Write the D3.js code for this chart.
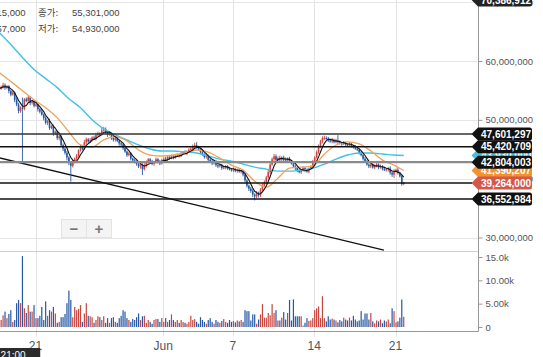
<!DOCTYPE html>
<html><head><meta charset="utf-8">
<script src="https://cdn.jsdelivr.net/npm/d3@7"></script>
<style>body{margin:0;background:#fff;overflow:hidden}svg{display:block}</style>
</head><body><svg id="c" width="543" height="357"></svg>
<script>
// ---------- DATA ----------
const startTime = "2021-05-17 21:00";   // first 4h candle
const stepHours = 4;
const firstOpen = 55.115;                // millions KRW
const close = [
55.301,55.6,55.9,55.5,55.7,54.9, 54.3,54.6,53.4,52.6,51.5,52.1,
51.9,53.5,53.2,53.8,52.9,53.1, 52.4,52.6,51.8,51.4,50.9,50.3,
49.5,49.8,48.6,48.9,47.7,48.0, 46.9,47.2,45.7,45.1,44.4,43.6,
42.7,42.2,42.8,43.4,43.9,44.8, 45.5,45.1,46.2,46.7,46.3,46.6,
47.0,46.8,47.4,47.7,47.5,48.2, 48.4,47.9,47.5,47.7,46.9,46.6,
46.9,46.4,46.0,45.8,45.2,44.6, 44.0,44.3,43.4,43.1,42.9,42.5,
42.1,42.4,41.6,42.2,42.8,43.3, 42.9,42.5,42.8,43.3,43.0,42.6,
43.1,43.4,43.2,43.7,43.5,43.8, 43.6,43.9,44.1,43.9,44.3,44.5,
44.3,44.6,44.9,45.1,45.5,45.7, 45.3,45.0,44.5,44.1,43.7,43.9,
43.2,43.0,42.6,42.9,42.3,42.1, 42.3,41.8,41.9,42.1,41.7,41.6,
41.4,41.6,41.3,41.5,41.2,41.3, 40.7,39.7,38.8,38.3,37.9,37.3,
37.0,37.6,37.2,38.1,38.8,39.4, 40.2,41.1,42.4,43.3,43.8,43.2,
43.5,43.2,43.6,43.3,43.1,43.4, 43.0,42.6,42.1,41.8,41.4,41.1,
41.4,41.8,41.4,41.2,41.7,42.1, 42.9,43.6,44.5,45.4,46.3,46.9,
46.9,46.8,46.5,46.3,46.6,46.2, 46.5,46.2,46.0,45.9,46.1,45.8,
45.7,45.9,45.5,45.4,45.1,44.9, 44.4,44.0,43.4,43.0,42.4,42.1,
42.4,41.9,42.1,42.4,41.9,42.1, 41.7,41.5,41.6,41.7,41.0,40.7,
41.3,41.5,41.0,40.4,39.1,39.264
];
const wickUp = [
0.16,0.2,0.4,0.3,0.2,0.2, 0.2,0.3,0.2,0.4,0.3,0.2,
1.7,0.2,0.3,0.4,0.2,0.3, 0.2,0.3,0.2,0.3,0.4,0.2,
0.3,0.2,0.4,0.2,0.3,0.2, 0.2,0.4,0.2,0.3,0.2,0.3,
0.2,0.3,0.4,0.2,0.3,0.2, 0.3,0.2,0.4,0.3,0.2,0.3,
0.2,0.3,0.4,0.3,0.2,0.5, 0.4,0.3,0.2,0.4,0.2,0.3,
0.3,0.2,0.2,0.3,0.2,0.3, 0.2,0.3,0.2,0.2,0.3,0.2,
0.3,0.2,0.2,0.4,0.3,0.2, 0.2,0.3,0.2,0.3,0.2,0.2,
0.3,0.2,0.3,0.2,0.2,0.3, 0.2,0.3,0.2,0.2,0.3,0.2,
0.3,0.2,0.3,0.2,0.3,0.4, 0.5,0.3,0.2,0.3,0.2,0.3,
0.2,0.3,0.2,0.2,0.3,0.2, 0.2,0.2,0.3,0.2,0.2,0.3,
0.2,0.3,0.2,0.2,0.3,0.2, 0.2,0.3,0.2,0.2,0.3,0.4,
0.2,0.3,0.2,0.3,0.4,0.3, 0.3,0.5,0.4,0.3,0.4,0.3,
0.3,0.4,0.2,0.3,0.3,0.2, 0.3,0.2,0.2,0.3,0.2,0.3,
0.2,0.3,0.2,0.3,0.2,0.2, 0.3,0.2,0.3,0.4,0.3,0.3,
0.4,0.3,0.3,0.2,0.3,0.2, 0.3,0.9,0.3,0.2,0.3,0.2,
0.2,0.3,0.2,0.2,0.3,0.2, 0.2,0.3,0.2,0.3,0.2,0.2,
0.3,0.2,0.3,0.4,0.2,0.3, 0.2,0.3,0.2,0.3,0.4,0.3,
0.3,0.2,0.3,0.2,0.2,0.2
];
const wickDown = [
0.19,0.2,0.3,0.4,0.3,0.4, 0.3,0.2,0.4,0.3,0.4,0.3,
9.3,0.3,0.2,0.3,0.4,0.3, 0.3,0.2,0.4,0.3,0.2,0.4,
0.3,0.4,0.3,0.2,0.4,0.3, 0.3,0.4,0.3,0.4,0.3,0.5,
0.4,2.7,0.3,0.2,0.3,0.3, 0.2,0.3,0.2,0.3,0.3,0.2,
0.3,0.2,0.3,0.2,0.3,0.2, 0.2,0.3,0.4,0.2,0.3,0.3,
0.3,0.2,0.4,0.3,0.3,0.2, 0.3,0.2,0.3,0.4,0.3,0.3,
0.3,0.4,1.0,0.2,0.3,0.2, 0.3,0.2,0.3,0.2,0.4,0.3,
0.2,0.3,0.2,0.2,0.3,0.2, 0.3,0.2,0.2,0.3,0.2,0.2,
0.2,0.3,0.2,0.2,0.3,0.2, 0.2,0.3,0.3,0.2,0.3,0.3,
0.3,0.2,0.3,0.2,0.3,0.3, 0.2,0.3,0.2,0.3,0.2,0.2,
0.2,0.3,0.2,0.3,0.2,0.3, 0.3,0.4,0.3,0.4,0.3,0.4,
0.7,0.3,0.4,0.3,0.3,0.2, 0.3,0.2,0.3,0.2,0.3,0.3,
0.2,0.3,0.2,0.3,0.2,0.3, 0.3,0.2,0.3,0.4,0.3,0.2,
0.3,0.2,0.3,0.2,0.3,0.2, 0.2,0.3,0.2,0.3,0.2,0.3,
0.3,0.2,0.3,0.2,0.3,0.2, 0.2,0.3,0.2,0.3,0.2,0.3,
0.2,0.3,0.2,0.3,0.2,0.2, 0.3,0.2,0.3,0.3,0.2,0.3,
0.3,0.2,0.3,0.2,0.3,0.2, 0.3,0.2,0.3,0.4,0.3,0.4,
0.6,0.2,0.3,0.2,0.3,0.2
];
const volume = [ // thousands
1.2,1.5,2.5,3.3,1.9,2.8, 3.6,1.1,1.5,5.1,5.8,5.1,
15.2,4.0,3.0,4.7,3.3,3.3, 4.7,1.9,1.9,2.4,4.3,1.5,
5.5,2.4,3.6,3.3,4.3,2.9, 0.9,1.1,2.1,2.1,2.8,5.1,
7.8,5.8,2.1,4.3,3.6,3.9, 4.7,1.1,2.9,5.1,2.4,2.3,
2.1,0.9,1.5,2.3,2.1,1.5, 2.3,0.9,1.9,0.9,1.9,2.1,
1.1,0.9,1.9,2.4,3.6,3.3, 1.9,1.5,1.1,1.7,1.5,2.1,
2.9,1.5,2.3,2.4,0.9,1.5, 1.1,0.7,1.5,1.7,1.7,1.1,
1.9,1.1,1.9,1.1,1.5,2.7, 1.5,1.1,1.5,0.9,1.5,1.1,
0.9,0.7,1.1,2.4,1.5,1.7, 1.1,0.7,2.1,1.5,1.1,0.7,
1.5,1.9,1.1,0.7,1.5,1.1, 0.9,1.3,1.7,1.1,0.9,1.5,
1.1,1.3,1.0,1.4,1.2,1.5, 1.1,3.6,3.4,3.4,1.4,2.7,
2.7,0.7,1.6,2.7,4.9,2.0, 2.0,3.0,2.5,4.9,3.0,3.6,
1.4,1.4,2.0,3.2,1.6,3.0, 5.8,1.4,5.9,2.3,2.3,2.3,
2.3,0.3,0.9,1.9,1.3,1.4, 1.9,3.6,4.0,4.4,1.9,6.6,
1.9,1.2,2.3,1.6,1.8,1.6, 1.4,1.0,1.5,1.2,2.0,1.6,
1.4,2.0,1.4,2.4,1.6,1.2, 1.4,3.4,1.6,2.9,2.9,1.6,
3.0,1.2,0.8,1.4,1.2,1.6, 0.8,1.4,1.2,1.6,0.8,4.0,
3.4,1.0,1.2,2.0,5.9,2.2
];
// moving averages sampled every 6 candles (+ last candle)
const maSampleEvery = 6;
const orangeMA = [58.03,56.50,54.96,53.42,52.05,50.34,47.95,45.73,45.38,46.58,47.09,46.41,
44.87,44.02,43.85,44.02,44.36,44.87,44.53,43.50,42.31,41.45,39.57,38.55,40.09,41.79,
41.97,42.14,44.19,45.73,46.24,45.90,44.70,43.16,42.31,41.390207];
const cyanMA = [64.87,62.82,60.60,58.55,57.01,55.47,53.59,52.05,50.00,48.46,47.44,46.58,
45.73,45.04,44.70,44.70,44.53,44.36,43.85,43.33,42.99,42.48,41.97,41.62,41.28,41.28,
41.45,41.79,42.48,43.33,44.02,44.36,44.36,44.19,44.02,43.93];
const shortMAPeriod = 5;
const levels = [47.601297, 45.420709, 42.804003, 36.552984];
const topTagValue = 70.386912;
const trendLine = [["2021-05-17 21:00", 43.55], ["2021-06-20 00:00", 27.87]];
const priceTicks = [30, 40, 50, 60, 70];
const volTicks = [0, 5, 10, 15];
const volTickLabels = ["0", "5.00k", "10.00k", "15.0k"];
const xTickDates = ["2021-05-21 00:00","2021-06-01 00:00","2021-06-07 00:00","2021-06-14 00:00","2021-06-21 00:00"];
const xTickLabels = ["21", "Jun", "7", "14", "21"];
const tooltipLabels = ["시가:", "고가:", "종가:", "저가:"];
const tooltipValues = [55115000, 55457000, 55301000, 54930000];
const crosshairLabel = "05.17 21:00";

// ---------- CHART ----------
const svg = d3.select("#c");
const parse = d3.timeParse("%Y-%m-%d %H:%M");
const t0 = parse(startTime);
const n = close.length;
const data = close.map((c, i) => {
  const o = i === 0 ? firstOpen : close[i - 1];
  return { t: d3.timeHour.offset(t0, stepHours * i), o, c,
    h: Math.max(o, c) + wickUp[i], l: Math.min(o, c) - wickDown[i], v: volume[i] };
});
const x = d3.scaleTime().domain([parse(xTickDates[0]), parse(xTickDates[4])]).range([35.5, 395.5]);
const y = d3.scaleLinear().domain([30, 60]).range([237.5, 61]);
const yv = d3.scaleLinear().domain([0, 15]).range([327, 257]);
const R = 478.5, SEP = 251.5, BOT = 331.5;
const UP = "#c9453f", DOWN = "#2458a8";
const FONT = "'Liberation Sans', Arial, sans-serif";

const defs = svg.append("defs");
defs.append("clipPath").attr("id", "cp").append("rect").attr("x", 0).attr("y", 0).attr("width", R).attr("height", SEP);
defs.append("clipPath").attr("id", "cv").append("rect").attr("x", 0).attr("y", SEP).attr("width", R).attr("height", BOT - SEP);

// grid
const grid = svg.append("g");
grid.selectAll(".gx").data(xTickDates).enter().append("line")
  .attr("x1", d => Math.round(x(parse(d))) + 0.5).attr("x2", d => Math.round(x(parse(d))) + 0.5)
  .attr("y1", 0).attr("y2", BOT + 5).attr("stroke", "#e3e3e3");
grid.selectAll(".gy").data(priceTicks).enter().append("line")
  .attr("x1", 0).attr("x2", R).attr("y1", d => Math.round(y(d)) + 0.5).attr("y2", d => Math.round(y(d)) + 0.5)
  .attr("stroke", "#e6e6e6");

// volume
const gv = svg.append("g").attr("clip-path", "url(#cv)");
gv.selectAll("rect").data(data).enter().append("rect")
  .attr("x", d => x(d.t) - 0.6).attr("width", 1.2)
  .attr("y", d => yv(d.v)).attr("height", d => yv(0) - yv(d.v))
  .attr("fill", d => d.c >= d.o ? UP : DOWN);

const gp = svg.append("g").attr("clip-path", "url(#cp)");
// trend line
gp.append("line")
  .attr("x1", x(parse(trendLine[0][0]))).attr("y1", y(trendLine[0][1]))
  .attr("x2", x(parse(trendLine[1][0]))).attr("y2", y(trendLine[1][1]))
  .attr("stroke", "#111").attr("stroke-width", 1.3);

// candles
const gc = gp.append("g");
gc.selectAll("line").data(data).enter().append("line")
  .attr("x1", d => x(d.t)).attr("x2", d => x(d.t))
  .attr("y1", d => y(d.h)).attr("y2", d => y(d.l))
  .attr("stroke", d => d.c >= d.o ? UP : DOWN).attr("stroke-width", 0.9);
gc.selectAll("rect").data(data).enter().append("rect")
  .attr("x", d => x(d.t) - 0.8).attr("width", 1.6)
  .attr("y", d => y(Math.max(d.o, d.c)))
  .attr("height", d => Math.max(1, Math.abs(y(d.o) - y(d.c))))
  .attr("fill", d => d.c >= d.o ? UP : DOWN);

// level lines
const levelStroke = ["#333", "#111", "#8a8a8a", "#111"];
const levelWidth = [1.6, 1.6, 2.2, 1.6];
levels.forEach((p, k) => {
  svg.append("line").attr("x1", 0).attr("x2", 472).attr("y1", y(p)).attr("y2", y(p))
    .attr("stroke", levelStroke[k]).attr("stroke-width", levelWidth[k]);
});
const last = data[n - 1];
svg.append("line").attr("x1", 0).attr("x2", 472).attr("y1", y(last.c)).attr("y2", y(last.c))
  .attr("stroke", "#111").attr("stroke-width", 1.6);

// moving averages
const maIdx = d3.range(0, n, maSampleEvery).concat([n - 1]);
const lineMA = d3.line().x(d => x(d[0])).y(d => y(d[1])).curve(d3.curveMonotoneX);
gp.append("path").attr("d", lineMA(maIdx.map((i, k) => [data[i].t, cyanMA[k]])))
  .attr("fill", "none").attr("stroke", "#43c1e4").attr("stroke-width", 1.4);
gp.append("path").attr("d", lineMA(maIdx.map((i, k) => [data[i].t, orangeMA[k]])))
  .attr("fill", "none").attr("stroke", "#f0a25a").attr("stroke-width", 1.3);
const shortMA = data.map((d, i) => [d.t, d3.mean(close.slice(Math.max(0, i - shortMAPeriod + 1), i + 1))]);
gp.append("path").attr("d", d3.line().x(d => x(d[0])).y(d => y(d[1]))(shortMA))
  .attr("fill", "none").attr("stroke", "#111").attr("stroke-width", 1.1);

// axes frame
svg.append("line").attr("x1", 0).attr("x2", R).attr("y1", SEP).attr("y2", SEP).attr("stroke", "#cfcfcf");
svg.append("line").attr("x1", 0).attr("x2", R).attr("y1", BOT).attr("y2", BOT).attr("stroke", "#999");
svg.append("line").attr("x1", R).attr("x2", R).attr("y1", 0).attr("y2", BOT).attr("stroke", "#999");

const ay = svg.append("g").attr("transform", `translate(${R},0)`)
  .call(d3.axisRight(y).tickValues(priceTicks).tickSize(4).tickPadding(3).tickFormat(d => d3.format(",")(d * 1e6)));
const av = svg.append("g").attr("transform", `translate(${R},0)`)
  .call(d3.axisRight(yv).tickValues(volTicks).tickSize(4).tickPadding(3).tickFormat((d, i) => volTickLabels[i]));
[ay, av].forEach(a => {
  a.select(".domain").remove();
  a.selectAll("line").attr("stroke", "#999");
  a.selectAll("text").attr("fill", "#555").style("font-family", FONT).style("font-size", "9.5px");
});

// x labels
svg.selectAll(".xl").data(xTickDates).enter().append("text")
  .attr("x", d => x(parse(d))).attr("y", 350).attr("text-anchor", "middle")
  .attr("fill", "#555").style("font-family", FONT).style("font-size", "12px")
  .text((d, i) => xTickLabels[i]);

// tags
function tag(yc, fill, text, color) {
  const h = 6.5, xt = 471.5, xb = 478, xr = 532, r = 2.5;
  svg.append("path").attr("d",
    `M${xt},${yc} L${xb},${yc - h} H${xr - r} Q${xr},${yc - h} ${xr},${yc - h + r} V${yc + h - r} Q${xr},${yc + h} ${xr - r},${yc + h} H${xb} Z`)
    .attr("fill", fill);
  svg.append("text").attr("x", 481).attr("y", yc).attr("dy", "0.36em")
    .attr("fill", color || "#fff").style("font-family", FONT).style("font-size", "10px").style("font-weight", "bold")
    .text(text);
}
const fmt = v => d3.format(",.0f")(v * 1e6);
tag(y(topTagValue), "#222", fmt(topTagValue));
tag(y(cyanMA[cyanMA.length - 1]), "#43c1e4", fmt(cyanMA[cyanMA.length - 1]));
tag(y(orangeMA[orangeMA.length - 1]), "#f0922e", fmt(orangeMA[orangeMA.length - 1]));
tag(y(levels[0]), "#111", fmt(levels[0]));
tag(y(levels[1]), "#111", fmt(levels[1]));
tag(y(levels[2]), "#111", fmt(levels[2]));
tag(y(last.c), "#d4574a", fmt(last.c));
tag(y(levels[3]), "#111", fmt(levels[3]));

// tooltip text
const tt = svg.append("g").style("font-family", "'Liberation Sans', Arial, 'Noto Sans CJK KR', sans-serif").style("font-size", "9.5px").attr("fill", "#444");
const fv = d3.format(",");
tt.append("text").attr("x", 25.5).attr("y", 16).attr("text-anchor", "end").text(tooltipLabels[0] + "  " + fv(tooltipValues[0]));
tt.append("text").attr("x", 25.5).attr("y", 32).attr("text-anchor", "end").text(tooltipLabels[1] + "  " + fv(tooltipValues[1]));
tt.append("text").attr("x", 38).attr("y", 16).style("font-family", "'Noto Sans CJK KR', sans-serif").text(tooltipLabels[2]);
tt.append("text").attr("x", 72).attr("y", 16).text(fv(tooltipValues[2]));
tt.append("text").attr("x", 38).attr("y", 32).style("font-family", "'Noto Sans CJK KR', sans-serif").text(tooltipLabels[3]);
tt.append("text").attr("x", 72).attr("y", 32).text(fv(tooltipValues[3]));

// crosshair time label
const cx = x(t0);
svg.append("rect").attr("x", cx - 41).attr("y", 348).attr("width", 82).attr("height", 14).attr("fill", "#2b2b2b");
svg.append("text").attr("x", cx).attr("y", 359).attr("text-anchor", "middle").attr("fill", "#fff")
  .style("font-family", FONT).style("font-size", "10px").text(crosshairLabel);

// zoom buttons
const btn = svg.append("g");
[["−", 61], ["+", 86]].forEach(([s, bx]) => {
  btn.append("rect").attr("x", bx + 0.5).attr("y", 219.5).attr("width", 25).attr("height", 18)
    .attr("fill", "#f4f4f4").attr("stroke", "#e4e4e4");
  btn.append("text").attr("x", bx + 13).attr("y", 229).attr("dy", "0.35em").attr("text-anchor", "middle")
    .attr("fill", "#777").style("font-family", FONT).style("font-size", "15px").style("font-weight", "bold").text(s);
});
</script></body></html>
